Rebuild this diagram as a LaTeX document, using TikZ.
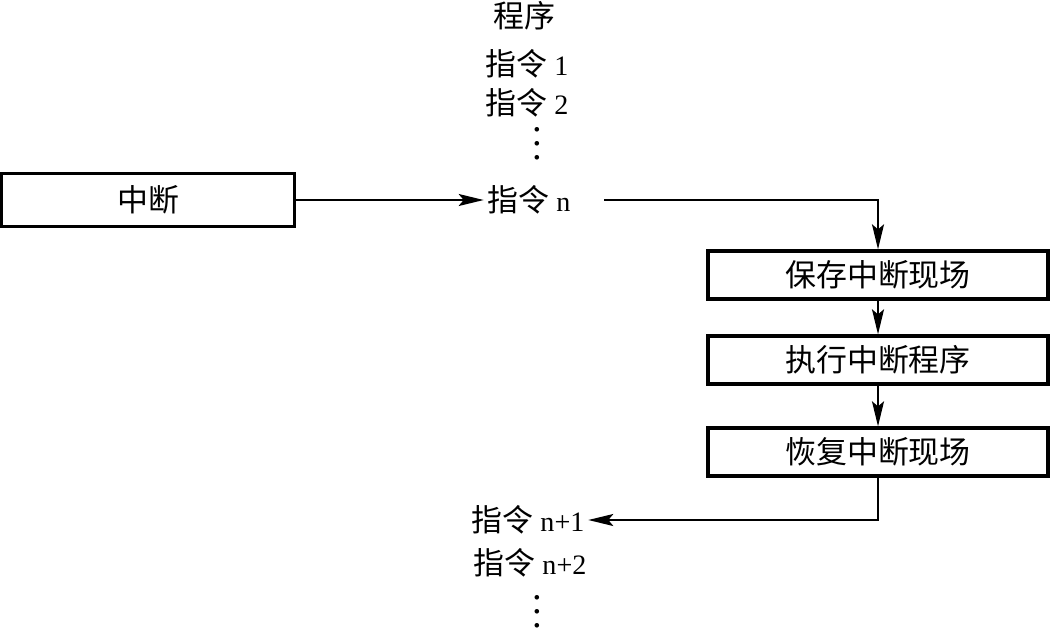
\documentclass[tikz,border=0pt]{standalone}
\usepackage{fontspec}
\setmainfont{Liberation Serif}
\newfontfamily\cjk[Scale=1.1]{Noto Sans CJK SC}
\usetikzlibrary{arrows.meta}
\newcommand{\vellip}{\vbox{\baselineskip=8pt\lineskiplimit=-10pt\hbox{.}\hbox{.}\hbox{.}}}

\begin{document}
\begin{tikzpicture}[x=0.02cm,y=-0.02cm,font=\fontsize{16}{19}\selectfont]
	\useasboundingbox (0,0) rectangle (1051,629);

	% boxes
	\begin{scope}[every node/.style={draw,line width=1.9pt,inner sep=0pt}]
	    \node[minimum width=5.86cm,minimum height=1.06cm] (int) at (148,200) {\cjk 中断};
	    \node[minimum width=6.8cm,minimum height=0.96cm] (save) at (878,275) {\cjk 保存中断现场};
	    \node[minimum width=6.8cm,minimum height=0.96cm] (exec) at (878,360) {\cjk 执行中断程序};
	    \node[minimum width=6.8cm,minimum height=0.96cm] (rest) at (878,452) {\cjk 恢复中断现场};
	\end{scope}

	% program listing
	\begin{scope}[every node/.style={inner sep=2pt}]
	    \node (prog) at (524,16) {\cjk 程序};
	    \node (i1) at (527,64) {{\cjk 指令} 1};
	    \node (i2) at (527,103) {{\cjk 指令} 2};
	    \node[font=\fontsize{22}{8}\selectfont] (d1) at (537,144) {\vellip};
	    \node (in) at (529,200) {{\cjk 指令} n};
	    \node (in1) at (528,520) {{\cjk 指令} n+1};
	    \node (in2) at (530,563) {{\cjk 指令} n+2};
	    \node[font=\fontsize{22}{8}\selectfont] (d2) at (537,612) {\vellip};
	\end{scope}

	\begin{scope}[>={Stealth[length=5mm,width=2.4mm,inset=1mm]},line width=1.1pt]
	    \draw[->] (int.east) -- (in.west);
	    \draw[->] ([xshift=0.6cm]in.east) -| (save.north);
	    \draw[->] (save) -- (exec);
	    \draw[->] (exec) -- (rest);
	    \draw[->] (rest.south) |- (in1.east);
	\end{scope}
\end{tikzpicture}
\end{document}
